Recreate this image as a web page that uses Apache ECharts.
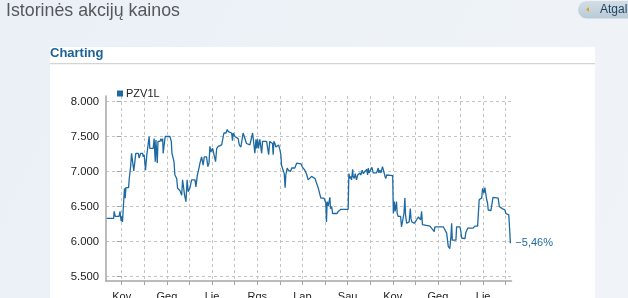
<!DOCTYPE html>
<html>
<head>
<meta charset="utf-8">
<script src="https://cdn.jsdelivr.net/npm/echarts@6/dist/echarts.min.js"></script>
<style>
html,body{margin:0;padding:0;background:#eef2f7;}
#c{width:628px;height:298px;}
</style>
</head>
<body>
<div id="c"></div>
<script>
// Month positions (0 = Kovas tick) and closing prices
const xs = [-0.66,-0.35,-0.33,-0.28,-0.11,-0.07,-0.04,-0.02,0.01,0.04,0.10,0.13,0.16,0.19,0.31,0.34,0.40,0.44,0.51,0.54,0.60,0.63,0.74,0.78,0.81,0.84,0.93,0.96,1.00,1.06,1.11,1.18,1.22,1.25,1.40,1.44,1.49,1.52,1.58,1.61,1.70,1.74,1.78,1.82,1.84,1.89,1.93,2.14,2.20,2.23,2.27,2.32,2.36,2.44,2.48,2.58,2.66,2.70,2.76,2.79,2.85,2.90,2.95,3.02,3.10,3.25,3.29,3.35,3.44,3.47,3.54,3.61,3.66,3.76,3.82,3.87,3.91,3.95,4.03,4.09,4.16,4.21,4.28,4.35,4.43,4.47,4.53,4.57,4.62,4.68,4.72,4.87,4.91,4.94,5.02,5.09,5.16,5.21,5.28,5.36,5.38,5.46,5.53,5.68,5.75,5.80,5.86,5.90,5.95,5.98,6.02,6.06,6.12,6.20,6.24,6.31,6.42,6.46,6.51,6.56,6.68,6.71,6.74,6.79,6.83,6.95,7.01,7.05,7.08,7.15,7.20,7.24,7.27,7.33,7.38,7.48,7.53,7.67,7.75,7.94,7.99,8.04,8.11,8.19,8.26,8.34,8.41,8.56,8.63,8.70,8.78,8.82,8.96,9.00,9.04,9.07,9.10,9.15,9.22,9.25,9.30,9.34,9.54,9.59,9.66,9.71,10.03,10.06,10.11,10.15,10.18,10.23,10.25,10.30,10.34,10.40,10.45,10.49,10.55,10.59,10.65,10.70,10.77,10.85,10.89,10.92,10.96,11.08,11.14,11.29,11.36,11.39,11.43,11.48,11.55,11.61,11.66,11.70,11.73,12.00,12.03,12.07,12.11,12.14,12.17,12.20,12.24,12.35,12.39,12.47,12.50,12.54,12.57,12.62,12.73,12.78,12.81,12.85,12.95,13.06,13.13,13.24,13.28,13.32,13.65,13.72,13.79,13.84,13.87,14.02,14.09,14.24,14.31,14.39,14.46,14.53,14.58,14.61,14.64,14.80,14.83,14.98,15.02,15.05,15.20,15.24,15.32,15.56,15.64,15.76,15.79,15.83,15.94,15.98,16.04,16.08,16.13,16.16,16.20,16.23,16.35,16.39,16.44,16.67,16.72,16.85,16.89,16.97,17.01,17.14,17.18,17.21];
const prices = [6.33,6.33,6.43,6.36,6.36,6.43,6.43,6.29,6.36,6.28,6.61,6.76,6.62,6.77,6.77,6.90,7.07,7.26,7.26,7.01,7.01,7.26,7.26,7.19,7.19,7.26,7.26,7.21,7.24,7.02,7.22,7.24,7.50,7.33,7.33,7.47,7.14,7.45,7.12,7.43,7.43,7.47,7.43,7.47,7.26,7.26,7.50,7.50,7.43,7.26,7.26,7.14,6.95,6.90,6.76,6.73,6.66,6.88,6.88,6.66,6.57,6.88,6.71,6.76,6.88,6.88,6.78,6.94,7.07,7.12,7.21,7.09,7.21,7.21,7.07,7.12,7.36,7.28,7.33,7.31,7.14,7.33,7.36,7.38,7.38,7.40,7.55,7.57,7.55,7.60,7.57,7.55,7.44,7.55,7.50,7.50,7.47,7.38,7.35,7.35,7.55,7.55,7.40,7.38,7.38,7.55,7.38,7.26,7.46,7.33,7.46,7.33,7.46,7.26,7.43,7.45,7.43,7.45,7.24,7.43,7.40,7.24,7.43,7.40,7.35,7.38,7.31,7.24,7.09,7.07,6.97,6.77,6.95,7.05,7.02,7.00,7.05,7.05,7.12,7.11,7.07,7.05,7.02,6.96,6.88,6.90,6.93,6.90,6.89,6.77,6.77,6.62,6.62,6.64,6.55,6.28,6.57,6.51,6.63,6.47,6.50,6.40,6.40,6.43,6.45,6.46,6.46,6.97,6.90,6.93,6.88,7.03,6.93,6.90,6.97,6.88,6.95,6.93,6.98,6.95,7.02,6.97,7.00,7.03,6.95,7.05,6.98,7.06,6.98,6.98,7.05,6.98,7.02,6.98,7.07,7.05,6.93,6.90,6.95,6.94,6.40,6.57,6.43,6.50,6.57,6.40,6.36,6.36,6.21,6.19,6.40,6.62,6.38,6.26,6.28,6.47,6.33,6.28,6.26,6.31,6.35,6.31,6.43,6.24,6.22,6.19,6.19,6.14,6.21,6.21,6.19,6.21,6.19,6.12,5.93,5.90,6.07,6.26,6.02,6.02,6.21,6.21,6.14,6.05,6.04,6.13,6.19,6.19,6.22,6.22,6.38,6.60,6.62,6.76,6.69,6.77,6.77,6.60,6.55,6.45,6.44,6.45,6.63,6.62,6.50,6.47,6.45,6.45,6.40,6.38,6.16,5.975];
const monthLabels = ['Kov','','Geg','','Lie','','Rgs','','Lap','','Sau','','Kov','','Geg','','Lie',''];
const seriesName = 'PZV1L';
const changeLabel = '\u22125,46%';
const pageTitle = 'Istorinės akcijų kainos';
const panelTitle = 'Charting';
const backLabel = 'Atgal';

const chart = echarts.init(document.getElementById('c'), null, {renderer: 'canvas'});
const data = xs.map((x, i) => [x, prices[i]]);
const blue = '#1d6aa2';
const axisGrey = '#a6a6a6';
const gridGrey = '#c4c4c4';
const FONT = 'Liberation Sans, Arial, sans-serif';

chart.setOption({
  animation: false,
  backgroundColor: {
    type: 'linear', x: 0, y: 0, x2: 1, y2: 1,
    colorStops: [{offset: 0, color: '#eaf0f6'}, {offset: 1, color: '#f0f4f8'}]
  },
  textStyle: {fontFamily: FONT},
  graphic: [
    {type: 'rect', z: -10, shape: {x: 50, y: 47, width: 545, height: 260}, style: {fill: '#ffffff'}},
    {type: 'rect', z: -9, shape: {x: 50, y: 63, width: 545, height: 1.2}, style: {fill: '#d4d4d4'}},
    {type: 'rect', z: -9, shape: {x: 578, y: 1, width: 70, height: 17.5, r: 8.75},
      style: {fill: {type: 'linear', x: 0, y: 0, x2: 0, y2: 1, colorStops: [{offset: 0, color: '#d3dee6'}, {offset: 1, color: '#b9cad6'}]}}},
    {type: 'polygon', z: 5, shape: {points: [[589, 7], [589, 12], [586, 9.5]]}, style: {fill: '#d9a42a'}},
    {type: 'text', z: 10, style: {x: 600, y: 9.8, text: backLabel, fill: '#234563', font: '12px ' + FONT, verticalAlign: 'middle'}},
    {type: 'text', z: 10, style: {x: 6, y: 11.3, text: pageTitle, fill: '#56595c', font: '17.8px ' + FONT, verticalAlign: 'middle'}},
    {type: 'text', z: 10, style: {x: 50, y: 53.4, text: panelTitle, fill: '#1b6296', font: 'bold 13px ' + FONT, verticalAlign: 'middle'}}
  ],
  legend: {
    left: 112, top: 83, itemWidth: 6, itemHeight: 6, itemGap: 10,
    icon: 'rect',
    textStyle: {fontSize: 11, color: '#222', fontFamily: FONT, padding: [0, 0, 0, -2]},
    data: [seriesName]
  },
  grid: [
    {left: 106, right: 116.5, top: 101.5, bottom: 21.5, outerBoundsMode: 'none', containLabel: false},
    {left: 106, right: 116.5, top: 96, bottom: 17, outerBoundsMode: 'none', containLabel: false},
    {left: 121.7, right: 122.3, top: 96, bottom: 17, outerBoundsMode: 'none', containLabel: false}
  ],
  xAxis: [
    {gridIndex: 0, type: 'value', min: -0.69, max: 17.26, show: false},
    {gridIndex: 1, type: 'value', min: 0, max: 1,
      axisLine: {show: true, lineStyle: {color: axisGrey, width: 1.5}},
      axisTick: {show: false}, axisLabel: {show: false}, splitLine: {show: false}},
    {gridIndex: 2, type: 'value', min: 0, max: 17, interval: 1,
      axisLine: {show: false},
      axisTick: {show: true, length: 4, lineStyle: {color: axisGrey, width: 1}},
      axisLabel: {show: true, margin: 10, fontSize: 11, color: '#222', fontFamily: FONT,
        showMinLabel: true, showMaxLabel: true, verticalAlign: 'top',
        formatter: v => monthLabels[Math.round(v)] || ''},
      splitLine: {show: true, lineStyle: {color: gridGrey, type: [3, 3], width: 1}}}
  ],
  yAxis: [
    {gridIndex: 0, type: 'value', min: 5.5, max: 8, interval: 0.5,
      axisLine: {show: false},
      axisTick: {show: true, length: 5, lineStyle: {color: axisGrey}},
      axisLabel: {margin: 7, fontSize: 11.3, color: '#222', fontFamily: FONT, formatter: v => v.toFixed(3)},
      splitLine: {show: true, lineStyle: {color: gridGrey, type: [3, 3], width: 1}}},
    {gridIndex: 1, type: 'value', min: 0, max: 1,
      axisLine: {show: true, lineStyle: {color: axisGrey, width: 1.5}},
      axisTick: {show: false}, axisLabel: {show: false}, splitLine: {show: false}},
    {gridIndex: 2, type: 'value', min: 0, max: 1, show: false}
  ],
  series: [{
    name: seriesName,
    type: 'line',
    xAxisIndex: 0, yAxisIndex: 0,
    data: data,
    showSymbol: false, symbol: 'none',
    color: blue,
    lineStyle: {color: blue, width: 1.3},
    endLabel: {show: true, formatter: changeLabel, color: '#1f6aa0', fontSize: 11, fontFamily: FONT, distance: 5}
  }]
});
</script>
</body>
</html>
